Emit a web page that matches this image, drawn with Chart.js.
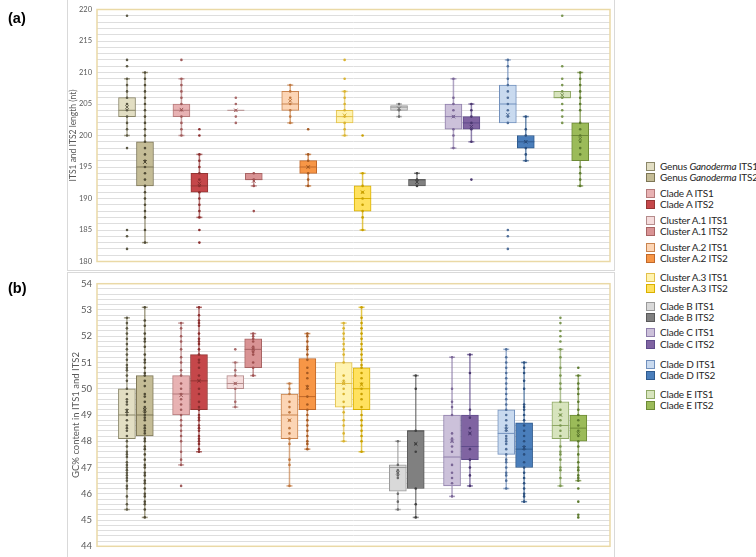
<!DOCTYPE html>
<html><head><meta charset="utf-8">
<script src="https://cdn.jsdelivr.net/npm/chart.js@4/dist/chart.umd.min.js"></script>
<style>
body{margin:0;background:#fff;width:756px;height:557px;overflow:hidden;position:relative;font-family:Lato,'Liberation Sans',sans-serif;}
.frame{position:absolute;border:1px solid #d9d9d9;box-sizing:border-box;}
#fa{left:67px;top:-1px;width:548px;height:272px;border-top:none;}
#fb{left:67px;top:272px;width:548px;height:290px;border-bottom:none;}
canvas{position:absolute;left:0;}
#ca{top:0;}
#cb{top:273px;}
.plab{position:absolute;left:8px;font:bold 14.5px 'Liberation Sans',Arial,sans-serif;color:#000;}
#legend{position:absolute;left:646px;top:0;font-size:10px;letter-spacing:-0.2px;color:#262626;}
.li{position:absolute;left:0;white-space:nowrap;line-height:11px;}
.li span.sw{display:inline-block;width:7px;height:7px;border:1px solid #404040;vertical-align:-1px;margin-right:5px;}
</style></head>
<body>
<div class="frame" id="fa"></div>
<div class="frame" id="fb"></div>
<canvas id="ca" width="615" height="271"></canvas>
<canvas id="cb" width="615" height="284"></canvas>
<div class="plab" style="top:10px">(a)</div>
<div class="plab" style="top:280px">(b)</div>
<div id="legend"></div>
<script>
const groups = ['Genus Ganoderma','Clade A','Cluster A.1','Cluster A.2','Cluster A.3','Clade B','Clade C','Clade D','Clade E'];
const legendNames = ['Genus <i>Ganoderma</i>','Clade A','Cluster A.1','Cluster A.2','Cluster A.3','Clade B','Clade C','Clade D','Clade E'];

// stats: [min, q1, median, q3, max, mean]
const lenITS1 = [[200,203,204,206,209,204.5],[200,203,204,205,209,204.1],[204,204,204,204,204,204.0],[202,204,205,207,208,205.5],[200,202,203,204,207,203.2],[203,204,204.5,204.75,205,204.3],[198,201,203,205,209,203],[202,202,205,208,212,203.3],[206,206,206,207,207,206.4]];
const lenITS2 = [[183,192,195,199,210,195.8],[187,191,192,194,197,192.4],[192,193,193,194,194,192.8],[192,194,195,196,197,195],[185,188,190,192,194,191],[192,192,193,193,194,192.6],[199,201,202,203,205,201.4],[196,198,199,200,203,199],[192,196,200,202,210,199.5]];
const lenITS1Pts = [[219,212,211,209,208,207,206,205,204,203,202,201,200,198,185,184,182],[212,209,208,207,206,205,204,203,202,201,200],[206,205,204,203,202],[208,207,206,205,204,203,202],[212,209,207,206,205,204,203,202,201,200],[205,204,203],[209,206,205,204,203,201,200,198],[212,211,209,208,207,206,205,204,203,202,185,184,182],[219,211,209,208,207,206,205,204,203,202]];
const lenITS2Pts = [[210,209,208,207,206,205,204,203,202,201,200,199,198,197,196,195,194,193,192,191,190,189,188,187,185,183],[201,200,197,196,195,194,193,192,191,190,189,188,187,185,183],[194,193,192,188],[201,197,196,195,194,193,192],[200,194,192,191,190,189,188,187,185],[194,193,192],[205,204,203,202,201,199,193],[203,201,200,199,198,197,196],[210,209,208,207,206,205,204,202,201,200,199,198,197,195,194,193,192]];

const gcITS1 = [[45.4,48.1,49.0,50.0,52.7,49.15],[47.1,49.0,49.8,50.5,52.5,49.75],[49.3,50.0,50.2,50.5,51.0,50.2],[46.3,48.1,49.0,49.8,50.2,48.8],[48.0,49.3,50.2,51.0,52.5,50.2],[45.4,46.1,47.0,47.1,48.0,46.8],[45.9,46.3,47.4,49.0,51.2,48.0],[46.2,47.5,48.3,49.2,51.5,48.45],[46.3,48.1,48.6,49.5,51.5,49.0]];
const gcITS2 = [[45.1,48.2,49.0,50.5,53.1,49.2],[47.6,49.2,50.3,51.3,53.1,50.3],[50.5,50.8,51.5,51.9,52.1,51.5],[47.7,49.2,49.7,51.15,52.1,50.05],[47.6,49.2,50.0,50.8,53.1,50.15],[45.1,46.2,48.4,48.4,50.5,47.9],[46.3,47.3,47.8,49.0,51.3,48.3],[45.7,47.0,47.7,48.7,51.0,47.75],[46.5,48.0,48.5,49.0,50.5,48.3]];
const gcITS1Pts = [
 [52.7,52.5,52.3,52.1,51.9,51.7,51.5,51.3,51.1,50.9,50.8,50.7,50.5,50.3,50.0,49.8,49.6,49.5,49.4,49.2,49.1,49.0,48.8,48.6,48.5,48.4,48.2,48.0,47.8,47.6,47.5,47.4,47.2,47.1,47.0,46.9,46.8,46.7,46.6,46.5,46.3,46.2,45.9,45.6,45.4],
 [52.5,52.3,52.0,51.8,51.5,51.2,51.0,50.7,50.5,50.2,50.0,49.8,49.6,49.4,49.2,49.0,48.8,48.6,48.4,48.2,48.0,47.6,47.3,47.1,46.3],
 [51.5,51.0,50.7,50.5,50.2,50.0,49.5,49.3],
 [50.2,50.0,49.8,49.5,49.3,49.1,48.8,48.5,48.3,48.1,47.9,47.3,47.1,46.3],
 [52.5,52.3,52.1,51.9,51.7,51.5,51.3,51.0,50.5,50.3,50.2,50.0,49.8,49.5,49.3,49.1,48.8,48.6,48.3,48.0],
 [48.0,47.1,46.9,46.8,46.7,46.6,46.0,45.7,45.4],
 [51.2,50.0,49.5,49.3,49.0,48.3,48.1,48.0,47.8,47.6,47.1,46.8,46.6,46.4,45.9],
 [51.5,51.2,51.0,50.8,50.6,50.4,50.2,50.0,49.8,49.6,49.4,49.2,49.0,48.8,48.6,48.5,48.4,48.2,48.1,48.0,47.9,47.7,47.5,47.3,47.2,47.0,46.8,46.7,46.5,46.2],
 [52.7,52.5,52.2,52.0,51.8,51.5,51.2,50.8,50.5,50.2,50.0,49.5,49.2,49.0,48.8,48.6,48.4,48.2,47.8,47.6,47.5,47.3,47.0,46.9,46.6,46.3]];
const gcITS2Pts = [
 [53.1,52.6,52.4,52.1,51.9,51.8,51.6,51.3,51.1,51.0,50.8,50.6,50.5,50.3,50.1,49.8,49.7,49.5,49.3,49.2,49.1,49.0,48.9,48.8,48.6,48.5,48.4,48.3,48.1,48.0,47.8,47.7,47.5,47.3,47.1,47.0,46.8,46.7,46.5,46.4,46.2,46.0,45.9,45.7,45.6,45.4,45.1],
 [53.1,52.8,52.6,52.5,52.4,52.1,51.9,51.8,51.7,51.5,51.3,51.1,51.0,50.8,50.5,50.3,50.0,49.8,49.5,49.3,49.2,49.0,48.9,48.8,48.6,48.5,48.4,48.2,48.1,48.0,47.9,47.7,47.6],
 [52.1,52.0,51.9,51.8,51.6,51.5,51.4,51.3,51.0,50.8,50.5],
 [52.1,52.0,51.8,51.6,51.5,51.3,51.1,50.8,50.6,50.4,50.1,50.0,49.7,49.4,49.2,49.0,48.8,48.6,48.4,48.2,48.0,47.9,47.7],
 [53.1,52.7,52.5,52.3,52.1,51.9,51.7,51.5,51.3,51.1,50.9,50.8,50.6,50.4,50.2,50.0,49.8,49.6,49.3,49.0,48.8,48.6,48.4,48.2,48.0,47.6],
 [50.5,50.0,48.4,47.9,47.6,46.2,45.6,45.1],
 [51.3,50.6,49.2,48.9,48.5,48.3,47.7,47.3,47.0,46.7,46.3],
 [51.0,50.8,50.6,50.3,50.0,49.4,49.3,49.2,49.0,48.8,48.6,48.4,48.2,48.0,47.8,47.7,47.5,47.2,47.0,46.8,46.6,46.4,46.2,46.0,45.9,45.7],
 [50.8,50.5,50.2,50.0,49.8,49.5,49.2,49.0,48.8,48.6,48.4,48.2,48.0,47.8,47.5,47.2,47.0,46.9,46.7,46.6,46.5,46.2,45.7,45.2,45.1]];

const lenTickLabels = ['180','185','190','195','200','205','210','215','220'];
const gcTickLabels = ['44','45','46','47','48','49','50','51','52','53','54'];

const fill1 = ['#e2dec3','#e8b2b3','#f5dcdc','#fcd5b5','#fff3b0','#d9d9d9','#ccc1da','#c9daef','#d7e4bd'];
const fill2 = ['#c4bc96','#c5474a','#d99394','#f79646','#ffe15e','#808080','#8064a2','#4a7ebb','#9bbb59'];
const line1 = ['#8a8668','#b47a7b','#b58c8c','#c9844f','#e2c04a','#9a9a9a','#8f7eab','#7190bd','#8fa866'];
const line2 = ['#7d7656','#943634','#a86464','#c0682a','#d9b000','#5a5a5a','#5f4b8b','#2f5b8f','#6d8a36'];
const dot1 = ['#5b5845','#a05b5b','#a86868','#c07840','#d9b330','#6a6a6a','#7a6696','#4f6e99','#7a9650'];
const dot2 = ['#4f4a35','#8b2e2e','#a05050','#a55a22','#c9a000','#404040','#4b3870','#2b4f7e','#5c7a2e'];

const OFF = 0.165;

function alpha(hex, a){const n=parseInt(hex.slice(1),16);return `rgba(${n>>16},${(n>>8)&255},${n&255},${a})`;}

function makeChart(id, s1, s2, p1, p2, yMin, yMax, step, tickLabels, title, xMin, xMax, pad, tickSize, titleSize, titlePad){
  const boxes = [];
  groups.forEach((g,i)=>{
    boxes.push({x:i-OFF, s:s1[i], fill:fill1[i], line:line1[i], dot:dot1[i], pts:p1[i]});
    boxes.push({x:i+OFF, s:s2[i], fill:fill2[i], line:line2[i], dot:dot2[i], pts:p2[i]});
  });
  const pts=[], ptCol=[];
  boxes.forEach(b=>b.pts.forEach(v=>{pts.push({x:b.x,y:v});ptCol.push(b.dot);}));
  const means = boxes.map(b=>({x:b.x,y:b.s[5]}));
  const boxPlugin = {
    id:'boxExtras',
    beforeDatasetsDraw(chart){
      const {ctx, chartArea:a, scales:{x,y}} = chart;
      ctx.save();
      ctx.strokeStyle='#ead9a6'; ctx.lineWidth=1.5;
      ctx.strokeRect(a.left,a.top,a.right-a.left,a.bottom-a.top);
      boxes.forEach(b=>{
        const px=x.getPixelForValue(b.x);
        ctx.strokeStyle=alpha(b.line,0.7); ctx.lineWidth=1.5;
        const segs=[[b.s[0],b.s[1]],[b.s[3],b.s[4]]];
        segs.forEach(([u,v])=>{ if(u===v) return;
          ctx.beginPath();ctx.moveTo(px,y.getPixelForValue(u));ctx.lineTo(px,y.getPixelForValue(v));ctx.stroke();});
        [b.s[0],b.s[4]].forEach(v=>{ if(v===b.s[1]||v===b.s[3]) return;
          const py=y.getPixelForValue(v);
          ctx.beginPath();ctx.moveTo(px-3,py);ctx.lineTo(px+3,py);ctx.stroke();});
      });
      ctx.restore();
    },
    afterDatasetDraw(chart,args){
      if(args.meta.type!=='bar') return;
      const {ctx, scales:{x,y}} = chart;
      ctx.save();
      boxes.forEach(b=>{
        const px=x.getPixelForValue(b.x), py=y.getPixelForValue(b.s[2]);
        ctx.strokeStyle=b.line; ctx.lineWidth=1;
        ctx.beginPath();ctx.moveTo(px-8.5,py);ctx.lineTo(px+8.5,py);ctx.stroke();
      });
      ctx.restore();
    }
  };
  return new Chart(document.getElementById(id),{
    type:'bar',
    data:{datasets:[
      {type:'scatter',data:pts,pointRadius:1.3,pointBorderWidth:0,pointBackgroundColor:ptCol,order:0},
      {type:'scatter',data:means,pointStyle:'crossRot',pointRadius:2.5,pointBorderWidth:1,pointBorderColor:boxes.map(b=>b.dot),pointBackgroundColor:'rgba(0,0,0,0)',order:0},
      {type:'bar',data:boxes.map(b=>({x:b.x,y:[b.s[1],b.s[3]]})),backgroundColor:boxes.map(b=>b.fill),borderColor:boxes.map(b=>b.line),borderWidth:1,borderSkipped:false,barThickness:17,grouped:false,order:2}
    ]},
    options:{
      responsive:false,animation:false,
      layout:{padding:pad},
      plugins:{legend:{display:false},tooltip:{enabled:false}},
      scales:{
        x:{type:'linear',min:xMin,max:xMax,offset:false,display:false,grid:{display:false}},
        y:{type:'linear',min:yMin,max:yMax,
          afterFit(s){s.width=35;},
          border:{display:false},
          grid:{color:'#dedede',lineWidth:1,drawTicks:false},
          ticks:{stepSize:step,autoSkip:false,padding:5,color:'#595959',font:{family:'Lato',size:tickSize},
            callback(v){const r=String(Math.round(v*1000)/1000);return tickLabels.includes(r)?r:'';}},
          title:{display:true,text:title,color:'#595959',font:{family:'Lato',size:titleSize},padding:{top:titlePad,bottom:0}}
        }
      }
    },
    plugins:[boxPlugin]
  });
}

makeChart('ca',lenITS1,lenITS2,lenITS1Pts,lenITS2Pts,180,220,1,lenTickLabels,'ITS1 and ITS2 length (nt)',-0.717,8.713,{left:62,top:7,right:5,bottom:4},7.5,8.5,6);
makeChart('cb',gcITS1,gcITS2,gcITS1Pts,gcITS2Pts,44,54,0.2,gcTickLabels,'GC% content in ITS1 and ITS2',-0.717,8.75,{left:62,top:10,right:3,bottom:9},9.5,9.5,8);

// legend
const legTops = [[167,178],[194,205],[221,232],[248,259],[278,289],[307,318],[333,345],[365,376],[395,406]];
const leg = document.getElementById('legend');
legendNames.forEach((n,i)=>{
  [[' ITS1',fill1[i],line1[i]],[' ITS2',fill2[i],line2[i]]].forEach((e,k)=>{
    const d=document.createElement('div');d.className='li';d.style.top=(legTops[i][k]-6)+'px';
    d.innerHTML=`<span class="sw" style="background:${e[1]};border-color:${e[2]}"></span>${n}${e[0]}`;
    leg.appendChild(d);
  });
});
</script>
</body></html>
